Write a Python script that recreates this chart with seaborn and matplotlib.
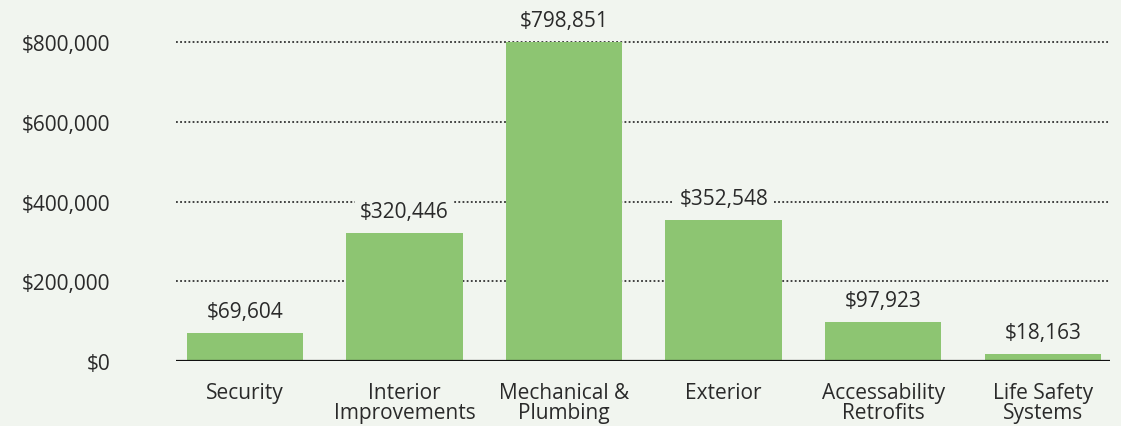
import pandas as pd
import seaborn as sns
import matplotlib.pyplot as plt
from matplotlib.ticker import FuncFormatter

categories = ["Security", "Interior\nImprovements", "Mechanical &\nPlumbing",
              "Exterior", "Accessability\nRetrofits", "Life Safety\nSystems"]
costs = [69604, 320446, 798851, 352548, 97923, 18163]
yticks = [0, 200000, 400000, 600000, 800000]

bg = "#f1f5ef"
bar_color = "#8dc572"
text_color = "#2a2a2a"

df = pd.DataFrame({"category": categories, "cost": costs})

sns.set_style("white")
plt.rcParams["font.family"] = ["Open Sans", "DejaVu Sans"]

fig = plt.figure(figsize=(11.21, 4.27), dpi=100, facecolor=bg)
ax = fig.add_axes([0.157, 0.152, 0.833, 0.836])
ax.set_facecolor(bg)

sns.barplot(data=df, x="category", y="cost", color=bar_color, saturation=1,
            width=0.73, linewidth=0, ax=ax, zorder=2)

ax.set_ylim(0, 895000)
ax.set_xlim(-0.433, 5.42)
ax.set_yticks(yticks)
ax.yaxis.set_major_formatter(FuncFormatter(lambda v, p: f"${v:,.0f}"))
ax.tick_params(axis="y", length=0, pad=47, labelsize=15, labelcolor=text_color)
ax.tick_params(axis="x", length=0, pad=15, labelsize=15, labelcolor=text_color)
for lab in ax.get_xticklabels():
    lab.set_linespacing(0.95)

for y in yticks[1:]:
    ax.axhline(y, color="#333333", lw=1.3, ls=(0, (1, 1.3)), zorder=1)
ax.axhline(0, color="#111111", lw=1.6, zorder=3)

for i, v in enumerate(costs):
    ax.annotate(f"${v:,}", (i, v), xytext=(0, 8), textcoords="offset points",
                ha="center", va="bottom", fontsize=15, color=text_color, zorder=4,
                bbox=dict(boxstyle="square,pad=0.25", fc=bg, ec="none"))

ax.set_xlabel("")
ax.set_ylabel("")
sns.despine(ax=ax, left=True, bottom=True)

fig.savefig("out.png", dpi=100, facecolor=bg)
